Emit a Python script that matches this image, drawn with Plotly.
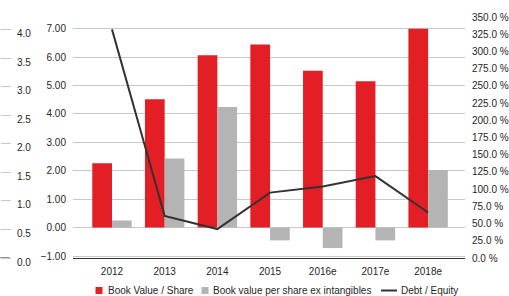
import plotly.graph_objects as go

years = ["2012", "2013", "2014", "2015", "2016e", "2017e", "2018e"]
book_value = [2.26, 4.52, 6.06, 6.44, 5.52, 5.15, 7.00]
book_value_ex = [0.25, 2.43, 4.24, -0.45, -0.72, -0.45, 2.03]
debt_equity = [332, 61, 42, 95, 104, 119, 66]
series_names = ["Book Value / Share", "Book value per share ex intangibles", "Debt / Equity"]
series_colors = ["#e31e24", "#b4b4b4", "#333333"]

W, H = 509, 296
TOP, BOTTOM = 17, 38
PLOT_H = H - TOP - BOTTOM
FONT = "Liberation Sans, Arial, sans-serif"
TXT = "#262626"

fig = go.Figure()
fig.add_trace(go.Bar(x=years, y=book_value, name=series_names[0],
                     marker=dict(color=series_colors[0], line=dict(width=0))))
fig.add_trace(go.Bar(x=years, y=book_value_ex, name=series_names[1],
                     marker=dict(color=series_colors[1], line=dict(width=0))))
fig.add_trace(go.Scatter(x=years, y=debt_equity, name=series_names[2], mode="lines",
                         yaxis="y2", line=dict(color=series_colors[2], width=2)))
# invisible trace to activate far-left axis
fig.add_trace(go.Scatter(x=[years[0]], y=[0], yaxis="y3", mode="markers",
                         marker=dict(opacity=0), showlegend=False, hoverinfo="skip"))

fig.update_layout(
    width=W, height=H,
    margin=dict(l=0, r=0, t=TOP, b=BOTTOM, autoexpand=False),
    paper_bgcolor="white", plot_bgcolor="white",
    font=dict(family=FONT, size=10, color=TXT),
    barmode="group", bargap=0.252, bargroupgap=0,
    showlegend=False,
    xaxis=dict(domain=[73 / W, 465 / W], range=[-0.74, 6.70], showgrid=False, ticks="",
               automargin=False, showline=True, linecolor="#333333", linewidth=1,
               tickfont=dict(size=10, color=TXT), ticklabelstandoff=4),
    yaxis=dict(range=[-1.07, 7.41], dtick=1, tick0=0, tickformat=".2f", automargin=False,
               showgrid=True, gridcolor="#c8c8c8", gridwidth=1, zeroline=False,
               showline=False, ticks="", ticklabelstandoff=6,
               tickfont=dict(size=10, color=TXT)),
    yaxis2=dict(range=[0, 350], dtick=25, tick0=0, tickformat=".1f", ticksuffix=" %",
                overlaying="y", side="right", anchor="x", showgrid=False, zeroline=False,
                showline=False, ticks="", ticklabelstandoff=6, automargin=False,
                tickfont=dict(size=10, color=TXT)),
    yaxis3=dict(range=[0, 4.22], dtick=0.5, tick0=0, tickformat=".1f",
                overlaying="y", side="right", anchor="free", position=0, automargin=False,
                showgrid=False, zeroline=False, showline=False,
                ticks="outside", ticklen=10, tickcolor="#c8c8c8", tickwidth=1,
                ticklabelshift=4, ticklabelstandoff=4,
                tickfont=dict(size=10, color=TXT)),
)

fig.add_shape(type="line", xref="paper", yref="y3", x0=0, x1=10 / W, y0=0, y1=0,
              line=dict(color="#333333", width=1))

# legend row (pixel layout converted to paper coordinates)
def py(p):
    return (H - BOTTOM - p) / PLOT_H

LEG_Y = 290.5
sym_x = [95.5, 201.5, 381]
txt_x = [106.5, 212, 400]
for i, name in enumerate(series_names):
    if i < 2:
        fig.add_shape(type="rect", xref="paper", yref="paper",
                      x0=sym_x[i] / W, x1=(sym_x[i] + 7) / W,
                      y0=py(LEG_Y + 3.5), y1=py(LEG_Y - 3.5),
                      fillcolor=series_colors[i], line=dict(width=0))
    else:
        fig.add_shape(type="line", xref="paper", yref="paper",
                      x0=sym_x[i] / W, x1=(sym_x[i] + 16) / W,
                      y0=py(LEG_Y), y1=py(LEG_Y),
                      line=dict(color=series_colors[i], width=2))
    fig.add_annotation(text=name, xref="paper", yref="paper", x=txt_x[i] / W, y=py(LEG_Y),
                       xanchor="left", yanchor="middle", showarrow=False,
                       font=dict(size=10, color=TXT), xshift=0, borderpad=0)

fig.write_html("out.html", config={"displayModeBar": False},
               post_script="document.body.style.margin='0';document.body.style.overflow='hidden';")
